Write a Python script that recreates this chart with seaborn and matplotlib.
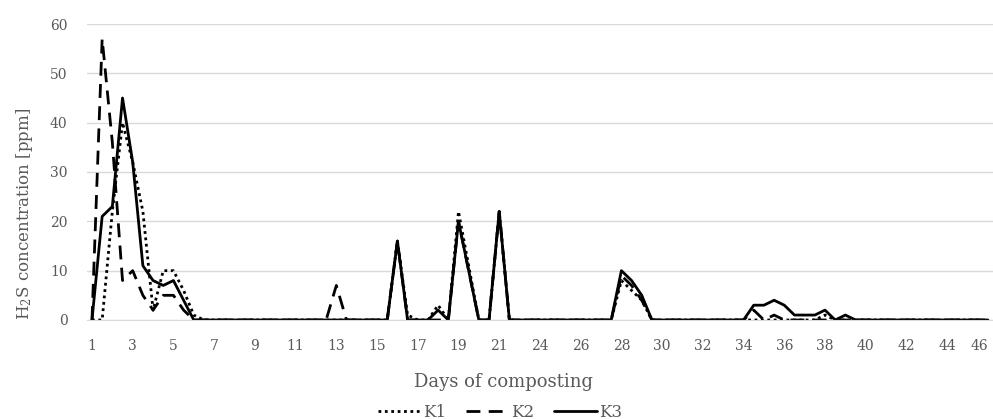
# H2S concentration during composting (K1, K2, K3)
import numpy as np
import pandas as pd
import matplotlib
matplotlib.use("Agg")
import matplotlib.pyplot as plt
import seaborn as sns

# Tick labels shown on the category axis (every 4th measurement)
tick_labels = ["1", "3", "5", "7", "9", "11", "13", "15", "17", "19", "21",
               "24", "26", "28", "30", "32", "34", "36", "38", "40", "42", "44", "46"]

# Measured H2S values [ppm], one per measurement (89 measurements)
k1 = [0, 0, 22, 40, 32, 22, 2, 10, 10, 6,
      1, 0, 0, 0, 0, 0, 0, 0, 0, 0,
      0, 0, 0, 0, 0, 0, 0, 0, 0, 0,
      16, 1, 0, 0, 3, 0, 22, 11, 0, 0,
      22, 0, 0, 0, 0, 0, 0, 0, 0, 0,
      0, 0, 8, 6, 4, 0, 0, 0, 0, 0,
      0, 0, 0, 0, 0, 0, 0, 0, 0, 0,
      0, 0, 1, 0, 0, 0, 0, 0, 0, 0,
      0, 0, 0, 0, 0, 0, 0, 0, 0]
k2 = [0, 57, 36, 8, 10, 5, 2, 5, 5, 2,
      0, 0, 0, 0, 0, 0, 0, 0, 0, 0,
      0, 0, 0, 0, 7, 0, 0, 0, 0, 0,
      16, 0, 0, 0, 0, 0, 20, 10, 0, 0,
      22, 0, 0, 0, 0, 0, 0, 0, 0, 0,
      0, 0, 9, 7, 4, 0, 0, 0, 0, 0,
      0, 0, 0, 0, 0, 2, 0, 1, 0, 0,
      0, 0, 0, 0, 0, 0, 0, 0, 0, 0,
      0, 0, 0, 0, 0, 0, 0, 0, 0]
k3 = [0, 21, 23, 45, 32, 11, 8, 7, 8, 4,
      0, 0, 0, 0, 0, 0, 0, 0, 0, 0,
      0, 0, 0, 0, 0, 0, 0, 0, 0, 0,
      16, 0, 0, 0, 2, 0, 20, 10, 0, 0,
      22, 0, 0, 0, 0, 0, 0, 0, 0, 0,
      0, 0, 10, 8, 5, 0, 0, 0, 0, 0,
      0, 0, 0, 0, 0, 3, 3, 4, 3, 1,
      1, 1, 2, 0, 1, 0, 0, 0, 0, 0,
      0, 0, 0, 0, 0, 0, 0, 0, 0]

df = pd.DataFrame({"idx": np.arange(len(k1)), "K1": k1, "K2": k2, "K3": k3})

sns.set_style("white")
plt.rcParams["font.family"] = ["DejaVu Serif"]
plt.rcParams["mathtext.fontset"] = "dejavuserif"

grey = "#595959"
fig = plt.figure(figsize=(9.93, 4.19), dpi=100)
ax = fig.add_axes([0.0875, 0.2363, 0.9125, 0.7064])

styles = {"K1": (0, (1, 1.3)), "K2": (0, (5, 3)), "K3": "-"}
for name in ["K1", "K2", "K3"]:
    sns.lineplot(data=df, x="idx", y=name, ax=ax, color="black", lw=2,
                 linestyle=styles[name], label=name, legend=False)

ax.set_xlim(-0.5, len(k1) - 0.5)
ax.set_ylim(0, 60)
ax.set_yticks(range(0, 61, 10))
ax.set_xticks(np.arange(0, len(k1), 4))
ax.set_xticklabels(tick_labels)
ax.tick_params(axis="both", colors=grey, labelsize=10, length=0, pad=14)
# keep the last label inside the figure edge
ax.get_xticklabels()[-1].set_ha("right")
ax.grid(axis="y", color="#d9d9d9", lw=1)
ax.set_axisbelow(True)
for s in ["top", "right", "left"]:
    ax.spines[s].set_visible(False)
ax.spines["bottom"].set_color("#d9d9d9")

ax.set_xlabel("")
ax.set_ylabel("")
fig.text(0.025, 0.49, "H$_2$S concentration [ppm]", rotation=90, ha="center",
         va="center", color=grey, fontsize=12)
fig.text(504 / 993, 1 - 382 / 419, "Days of composting", ha="center",
         va="center", color=grey, fontsize=13)

handles, labels = ax.get_legend_handles_labels()
fig.legend(handles, labels, loc="center", bbox_to_anchor=(500 / 993, 1 - 412 / 419),
           ncol=3, frameon=False, fontsize=12, handlelength=2.6, columnspacing=1.2,
           handletextpad=0.1, labelcolor=grey)

fig.savefig("out.png", dpi=100)
